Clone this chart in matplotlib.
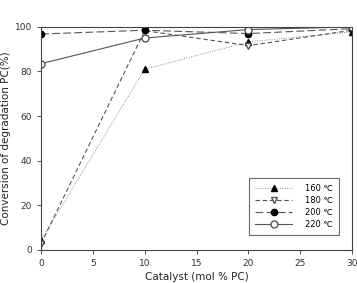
import matplotlib
matplotlib.use("Agg")
import matplotlib.pyplot as plt

catalyst = [0, 10, 20, 30]
conv_160 = [4.3, 81.0, 93.3, 97.8]
conv_180 = [2.8, 98.3, 91.6, 98.5]
conv_200 = [96.8, 98.5, 97.0, 99.2]
conv_220 = [83.5, 95.0, 98.8, 100.0]
labels = ["160 \u2103", "180 \u2103", "200 \u2103", "220 \u2103"]

fig = plt.figure(figsize=(3.57, 2.83), dpi=100)
ax = fig.add_axes([0.115, 0.117, 0.871, 0.788])

lc = "#555555"
ax.plot(catalyst, conv_160, linestyle=(0, (1, 1.5)), color="#888888", lw=0.7,
        marker="^", mfc="black", mec="black", ms=4, label=labels[0])
ax.plot(catalyst, conv_180, linestyle=(0, (4, 2.5)), color=lc, lw=0.8,
        marker="v", mfc="white", mec=lc, ms=4, label=labels[1])
ax.plot(catalyst, conv_200, linestyle=(0, (7, 3)), color=lc, lw=0.8,
        marker="o", mfc="black", mec="black", ms=4.5, label=labels[2])
ax.plot(catalyst, conv_220, linestyle="-", color=lc, lw=0.8,
        marker="o", mfc="white", mec=lc, ms=5, label=labels[3])

ax.set_xlim(0, 30)
ax.set_ylim(0, 100)
ax.set_xticks([0, 5, 10, 15, 20, 25, 30])
ax.set_yticks([0, 20, 40, 60, 80, 100])
ax.tick_params(labelsize=6.5, direction="out", length=3, width=0.6, colors="#333333")
for s in ax.spines.values():
    s.set_linewidth(0.8)
    s.set_color("#444444")
ax.set_xlabel("Catalyst (mol % PC)", fontsize=7.5, color="#222222", labelpad=3)
ax.set_ylabel("Conversion of degradation PC(%)", fontsize=7.5, color="#222222", labelpad=3)

leg = ax.legend(loc="lower right", bbox_to_anchor=(0.97, 0.05), fontsize=6,
                frameon=True, fancybox=False, edgecolor="#444444", handlelength=4.5,
                borderpad=0.7, labelspacing=0.35, handletextpad=1.5)
leg.get_frame().set_linewidth(0.8)

fig.savefig("out.png", dpi=100)
